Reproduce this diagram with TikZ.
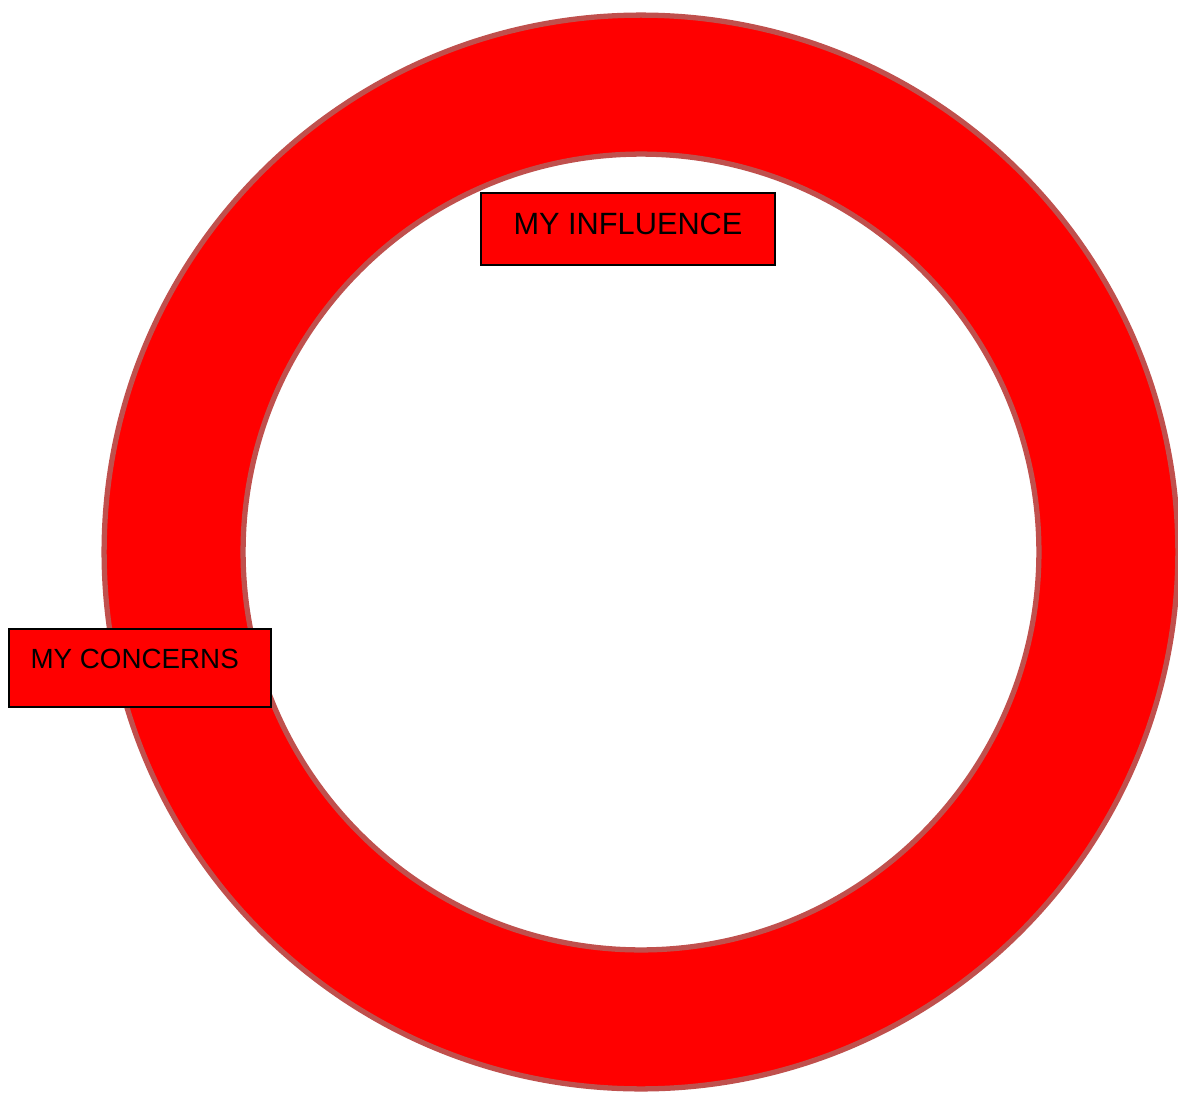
\documentclass[tikz,border=0pt]{standalone}
\usepackage{fontspec}
\setmainfont{Liberation Sans}
\usepackage{xcolor}
\usetikzlibrary{positioning}
\definecolor{ringedge}{RGB}{192,80,77}

\begin{document}
\begin{tikzpicture}[
    x=0.02cm, y=-0.02cm,
    ring/.style={draw=ringedge, line width=3pt},
    tag/.style={rectangle, draw=black, line width=1.1pt, fill=red, inner sep=0pt, align=center, font=\fontsize{17.5}{21}\selectfont}
]
\useasboundingbox (0,0) rectangle (1178,1093);

% Rings
\coordinate (centre) at (641,552);
\draw [ring, fill=red] (centre) circle[radius=10.74cm];
\draw [ring, fill=white] (centre) circle[radius=7.96cm];

% Nodes
\node [tag, minimum width=5.88cm, minimum height=1.44cm] (influence) at (628,229) {\raisebox{5.6pt}{MY INFLUENCE}};
\node [tag, minimum width=5.24cm, minimum height=1.56cm, font=\fontsize{15.8}{19}\selectfont] (concerns) at (140,668) {\raisebox{10pt}{MY CONCERNS}\hspace{6pt}};

\end{tikzpicture}
\end{document}
